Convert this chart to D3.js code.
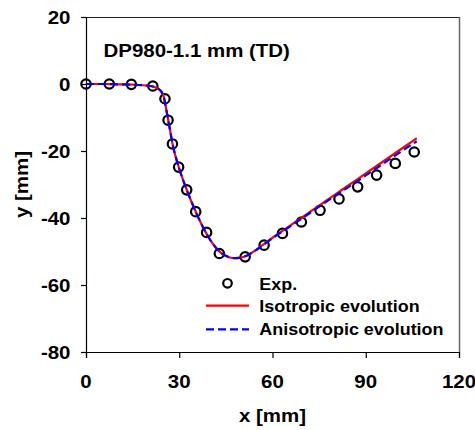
<!DOCTYPE html>
<html lang="en">
<head>
<meta charset="UTF-8">
<title>DP980-1.1 mm (TD)</title>
<script src="https://cdnjs.cloudflare.com/ajax/libs/d3/7.8.5/d3.min.js"></script>
<style>
  html, body { margin: 0; padding: 0; background: #fff; }
  svg text { font-family: "Liberation Sans", Arial, sans-serif; font-weight: bold; fill: #000; }
</style>
</head>
<body>
<svg id="chart" width="475" height="430"></svg>
<script>
// measured points
var expX = [0, 7.5, 14.6, 21.5, 25.4, 26.4, 27.8, 29.8, 32.4, 35.3, 38.8, 42.9, 51.2, 57.3, 63.2, 69.3, 75.3, 81.4, 87.4, 93.5, 99.5, 105.6];
var expY = [0, 0, -0.1, -0.6, -4.4, -10.8, -17.9, -24.8, -31.6, -38.1, -44.3, -50.6, -51.6, -48.1, -44.6, -41.2, -37.7, -34.3, -30.7, -27.2, -23.7, -20.3];

// simulations
var modelX = [0, 5, 10, 15, 20, 22, 24, 25, 26, 27, 28, 29, 30, 32, 34, 36, 38, 40, 42, 44, 46, 48, 50, 52, 55, 60, 65, 70, 75, 80, 85, 90, 95, 100, 106.4];
var isoY   = [0, 0, -0.1, -0.2, -0.5, -0.9, -2.0, -3.8, -8.5, -13.6, -18.6, -22.2, -25.3, -30.6, -35.3, -39.6, -43.4, -46.6, -49.1, -50.8, -51.7, -52.0, -51.8, -51.1, -49.3, -45.9, -42.7, -39.5, -36.3, -33.1, -29.9, -26.7, -23.5, -20.3, -16.2];
var anisoY = [0, 0, -0.1, -0.2, -0.5, -0.9, -2.0, -3.8, -8.5, -13.6, -18.6, -22.2, -25.3, -30.6, -35.3, -39.6, -43.4, -46.6, -49.1, -50.8, -51.7, -52.0, -51.8, -51.1, -49.4, -46.0, -42.9, -39.8, -36.6, -33.5, -30.4, -27.3, -24.2, -21.0, -17.1];

var xTicks = [0, 30, 60, 90, 120];
var yTicks = [20, 0, -20, -40, -60, -80];
var legendLabels = ["Exp.", "Isotropic evolution", "Anisotropic evolution"];
var title = "DP980-1.1 mm (TD)";

var svg = d3.select("#chart");
var plotL = 86, plotR = 459, plotT = 17, plotB = 352;

var x = d3.scaleLinear().domain([0, 120]).range([plotL, plotR]);
var y = d3.scaleLinear().domain([-80, 20]).range([plotB, plotT]);

// text is a bit wider than plain Arial in the reference
function label(g, px, py, str, size, anchor, rot) {
    var t = g.append("g")
        .attr("transform", "translate(" + px + "," + py + ")" + (rot ? " rotate(" + rot + ")" : "") + " scale(1.1,1)");
    t.append("text")
        .attr("text-anchor", anchor || "start")
        .style("font-size", size + "px")
        .text(str);
    return t;
}

// frame
svg.append("line").attr("x1", plotL).attr("x2", plotR).attr("y1", plotT + 0.5).attr("y2", plotT + 0.5)
    .attr("stroke", "#222").attr("stroke-width", 1);
svg.append("line").attr("x1", plotR + 0.5).attr("x2", plotR + 0.5).attr("y1", plotT).attr("y2", plotB)
    .attr("stroke", "#666").attr("stroke-width", 1.5);

// axes
var xAxis = svg.append("g").attr("transform", "translate(0," + plotB + ")")
    .call(d3.axisBottom(x).tickValues(xTicks).tickSize(6).tickFormat(""));
var yAxis = svg.append("g").attr("transform", "translate(" + plotL + ",0)")
    .call(d3.axisLeft(y).tickValues(yTicks).tickSize(5).tickFormat(""));
[xAxis, yAxis].forEach(function(a) {
    a.selectAll("path, line").attr("stroke", "#000").attr("stroke-width", 1.2);
});

xTicks.forEach(function(v) { label(svg, x(v), 388, String(v), 18.6, "middle"); });
yTicks.forEach(function(v) { label(svg, 70.5, y(v) + 6.7, String(v), 18.6, "end"); });

label(svg, (plotL + plotR) / 2, 422, "x [mm]", 18.6, "middle");
label(svg, 27.5, (plotT + plotB) / 2, "y [mm]", 18.6, "middle", -90);

label(svg, 103.5, 56.7, title, 18.6, "start");

// experiment markers
svg.append("g").selectAll("circle")
    .data(expX.map(function(d, i) { return [d, expY[i]]; }))
    .enter().append("circle")
    .attr("cx", function(d) { return x(d[0]); })
    .attr("cy", function(d) { return y(d[1]); })
    .attr("r", 4.7)
    .attr("fill", "none")
    .attr("stroke", "#000")
    .attr("stroke-width", 2.2);

var line = d3.line()
    .x(function(d) { return x(d[0]); })
    .y(function(d) { return y(d[1]); })
    .curve(d3.curveMonotoneX);

svg.append("path")
    .attr("d", line(modelX.map(function(d, i) { return [d, isoY[i]]; })))
    .attr("fill", "none").attr("stroke", "#ff0000").attr("stroke-width", 2.2);

svg.append("path")
    .attr("d", line(modelX.map(function(d, i) { return [d, anisoY[i]]; })))
    .attr("fill", "none").attr("stroke", "#0000ff").attr("stroke-width", 2.2)
    .attr("stroke-dasharray", "8,4");

// legend
var lg = svg.append("g");
lg.append("circle").attr("cx", 227.5).attr("cy", 283.3).attr("r", 4.3)
    .attr("fill", "none").attr("stroke", "#000").attr("stroke-width", 2.2);
lg.append("line").attr("x1", 206).attr("x2", 249).attr("y1", 305.7).attr("y2", 305.7)
    .attr("stroke", "#ff0000").attr("stroke-width", 2.2);
lg.append("line").attr("x1", 206).attr("x2", 249).attr("y1", 329.3).attr("y2", 329.3)
    .attr("stroke", "#0000ff").attr("stroke-width", 2.2).attr("stroke-dasharray", "8,4");
legendLabels.forEach(function(s, i) {
    label(lg, 259.3, 289.8 + i * 22.6, s, 16.3, "start");
});
</script>
</body>
</html>
